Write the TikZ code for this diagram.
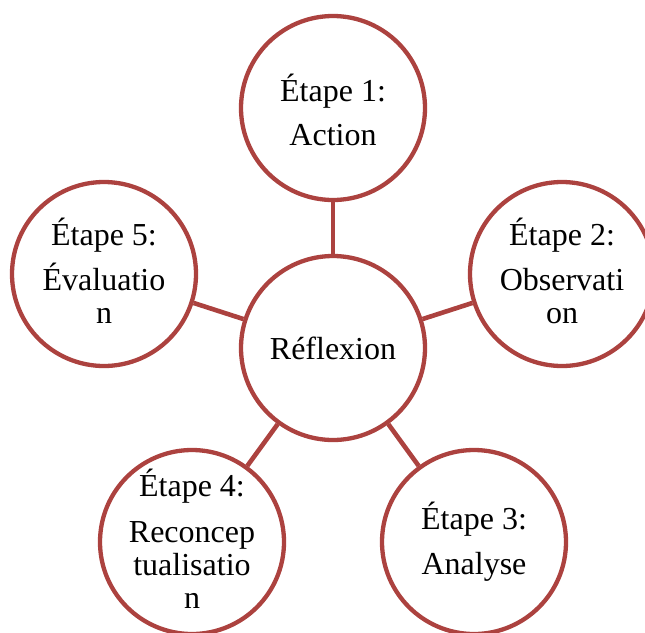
\documentclass[tikz,border=0pt]{standalone}
\usepackage{fontspec}
\setmainfont{Liberation Serif}
\definecolor{ring}{RGB}{172,66,63}
\begin{document}
\begin{tikzpicture}[x=1pt,y=-1pt,
  stage/.style={circle,draw=ring,line width=4.3pt,minimum size=184pt,inner sep=0pt,fill=white},
  link/.style={draw=ring,line width=4.6pt},
  lbl/.style={anchor=base,inner sep=0pt,font=\fontsize{32}{34}\selectfont}]
\useasboundingbox (0,0) rectangle (645,632);
\clip (0,0) rectangle (645,632);
\node[stage] (c0) at (333,348) {};
\node[stage] (c1) at (333,108) {};
\node[stage] (c2) at (562,274) {};
\node[stage] (c3) at (474,542) {};
\node[stage] (c4) at (192,542) {};
\node[stage] (c5) at (104,274) {};
\foreach \k in {1,...,5} \draw[link] (c0) -- (c\k);
% texts
\node[lbl] (t0) at (333,359) {Réflexion};
\node[lbl] (t1a) at (333,101) {Étape 1:};
\node[lbl] (t1b) at (333,145) {Action};
\node[lbl] (t2a) at (562,245) {Étape 2:};
\node[lbl] (t2b) at (562,290) {Observati};
\node[lbl] (t2c) at (562,323) {on};
\node[lbl] (t3a) at (474,529) {Étape 3:};
\node[lbl] (t3b) at (474,574) {Analyse};
\node[lbl] (t4a) at (192,496) {Étape 4:};
\node[lbl] (t4b) at (192,542) {Reconcep};
\node[lbl] (t4c) at (192,575) {tualisatio};
\node[lbl] (t4d) at (192,608) {n};
\node[lbl] (t5a) at (104,245) {Étape 5:};
\node[lbl] (t5b) at (104,290) {Évaluatio};
\node[lbl] (t5c) at (104,323) {n};
\end{tikzpicture}
\end{document}
